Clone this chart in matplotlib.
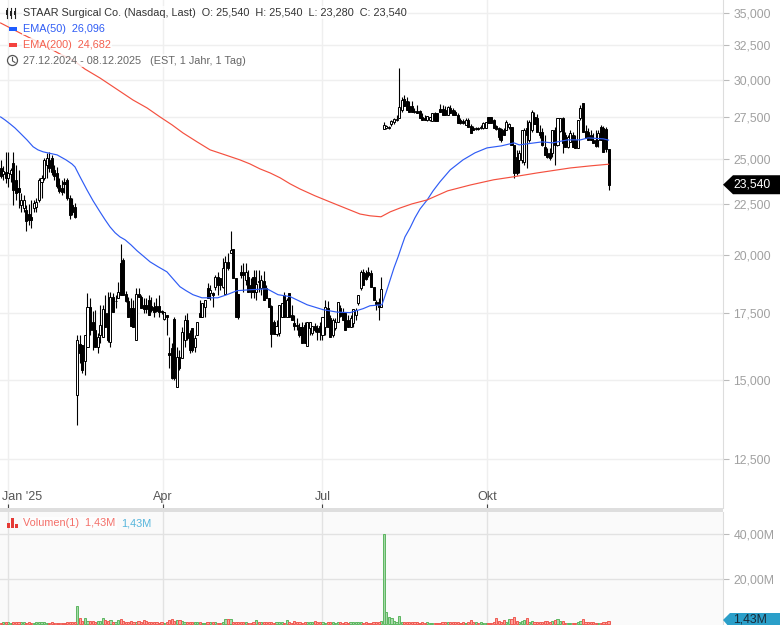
import matplotlib
matplotlib.use('Agg')
import matplotlib.pyplot as plt
import numpy as np
from matplotlib.patches import Polygon, Rectangle, Circle
from matplotlib.transforms import IdentityTransform, ScaledTranslation

plt.rcParams['font.family'] = ['Liberation Sans', 'DejaVu Sans']

opens = [
    24470,24140,24250,23920,24140,24760,23810,23370,22470,22310,
    22210,22010,21860,22310,22370,22730,23700,23920,24650,24930,
    25040,24360,24190,23530,23370,23700,23810,22840,22470,22370,
    14500,16310,16270,15650,16200,17760,17160,16840,16200,16650,
    16570,17520,17520,16380,18180,18000,18130,19660,19790,18300,
    18000,17720,17720,16460,18300,18180,17840,17840,18050,17800,
    17760,17800,17800,17600,17280,17440,15970,16150,17280,14770,
    15830,15760,16460,17240,16730,16920,16200,16650,17520,17360,
    17760,18560,18350,18350,18600,19030,18990,18600,18300,19700,
    20110,20310,18990,18300,19250,19250,18900,19030,18690,19030,
    18390,18860,18560,18860,18560,18130,17800,17160,16690,16730,
    17360,18260,17360,18350,17440,17120,17040,16960,16960,17040,
    16230,16920,16730,17000,16920,17000,16650,16960,17720,17320,
    16650,16920,17160,17720,17560,17520,17240,16960,17120,17440,
    17920,18560,19250,19210,19250,19210,18600,17960,17960,17760,
    26780,26840,26840,27090,27210,27340,27470,27980,28700,28560,
    28240,28240,27920,27920,27920,27530,27470,27340,27340,27280,
    27790,27790,28040,28040,27980,27660,28110,27980,27850,27660,
    27340,27280,27030,27340,26970,26840,26780,26840,26840,26840,
    26840,27530,27530,27340,26970,26840,26780,26720,26720,26910,
    26910,25810,25100,24930,24930,24820,26840,26110,26720,27530,
    27470,26590,26590,25700,25340,25340,25340,26720,25810,26660,
    27470,26410,25700,25990,26410,26110,25630,27470,28430,26660,
    26590,26410,26110,26110,26110,26910,26840,26780,25540]
highs = [
    24930,24590,25400,25400,24470,25400,24650,24360,23100,23000,
    22470,22520,22730,22730,22840,23920,24080,25040,25340,25400,
    25220,24650,24530,23920,23810,23920,23920,23000,22840,22570,
    16650,16650,16270,16650,18350,18130,17600,17640,16730,17840,
    17840,18260,18390,18390,18350,18260,18820,20530,19880,18430,
    18180,18130,18050,18560,18560,18260,18130,18130,18260,18180,
    17960,18130,18260,17640,17560,17440,16570,16340,17360,16200,
    16080,16960,17440,17520,16840,16920,16650,17160,18050,17920,
    18050,18770,18690,18390,19120,19250,18990,19880,19970,20110,
    21160,20310,18990,18300,19570,19660,19660,19340,18990,19340,
    19340,19340,19120,19290,18690,18130,17840,17240,17240,17840,
    17920,18390,18130,18350,17840,17440,17320,17120,17160,17160,
    17160,17160,17000,17120,17040,17160,17360,18050,18010,17440,
    17320,17320,17960,17840,17720,17560,17440,17440,17680,17720,
    18260,19340,19390,19340,19480,19340,18600,18050,18130,19030,
    27210,27030,26970,27340,27470,27660,30825,28830,28960,28830,
    28560,28560,28110,28300,27980,27790,27660,27600,27530,27790,
    27850,27790,28370,28300,28240,28240,28300,28110,27980,27790,
    27470,27400,27470,27470,27090,26970,26910,26910,27030,27210,
    27210,27530,27530,27400,27030,26910,26840,26840,27340,27150,
    26910,25810,25515,25515,26720,26840,27340,27340,27980,27850,
    27720,27030,26840,26410,25630,25630,26720,26910,27470,27470,
    27530,26590,26410,26720,26590,26410,27340,28300,28430,27030,
    26840,26720,26530,26720,26720,27030,26970,26910,25540]
lows = [
    23920,23810,23640,23420,23700,22470,22730,22310,22110,22110,
    21160,21460,21310,22110,22110,22620,22840,23810,23920,24250,
    24080,23810,23370,23100,23000,23100,22730,21760,21960,21810,
    13510,15610,15250,15180,16200,16650,16080,16200,15970,16340,
    16570,16960,16380,16200,17560,17720,18130,18260,18260,17960,
    17360,17000,16960,16460,18180,17720,17520,17520,17440,17560,
    17360,17560,17360,17480,17240,16650,15430,15040,15010,14740,
    15360,15760,16200,16460,15970,16000,16000,16650,17360,17360,
    17360,18130,18050,17760,18470,18260,18470,18560,18300,19340,
    20110,18990,17360,17280,18990,18390,18690,18390,18130,18130,
    18050,18390,18260,18050,18130,17760,16200,16690,16610,16610,
    17360,17360,17360,17360,17240,16840,16840,16570,16340,16340,
    16230,16650,16650,16760,16460,16460,16460,16650,16960,16570,
    16570,16840,17160,17360,17240,16840,16960,16960,16960,17240,
    17840,18470,18690,18900,19030,18600,18050,17640,17240,17760,
    26780,26780,26780,26970,27090,27280,27470,27850,28240,27980,
    27850,27850,27790,27790,27470,27340,27340,27280,27280,27280,
    27280,27280,27850,27660,27660,27660,27790,27660,27660,27150,
    27090,27090,27030,26910,26530,26720,26720,26720,26780,26780,
    26840,27150,27150,26840,26720,26110,25990,26410,26720,26780,
    25810,23920,24080,24190,24760,24650,24470,25990,26590,27090,
    26590,26230,25750,25220,25040,24930,25100,24650,25750,26590,
    25340,25700,25630,25990,25700,25630,25630,27340,26590,26230,
    26110,26110,25930,25700,25700,26110,25400,25400,23280]
closes = [
    24030,24300,23920,24190,24360,23260,23100,23150,22730,22730,
    21660,21710,21710,22570,22620,23810,23920,24930,25040,24470,
    24250,24030,23480,23210,23150,23590,22840,21960,22110,21860,
    16460,15970,15360,16650,17760,16840,16840,16200,16570,17040,
    17680,16960,16460,18180,17560,18010,18390,18260,18260,18000,
    17360,17000,16960,18300,18180,17720,17680,17680,17440,17640,
    17560,17600,17560,17560,17560,17360,15900,15080,15080,15830,
    15430,16760,17240,16530,16080,16080,16530,17160,17360,17920,
    18050,18130,18470,18260,19030,18690,18690,19430,19700,19430,
    20260,18990,17360,17360,19120,19120,19250,18390,18390,18390,
    18730,18820,18900,18050,18130,17760,16690,16690,17000,17840,
    17920,17360,18050,17360,17240,17000,17000,16650,16340,16340,
    17160,17160,17000,16840,16760,16760,17360,17760,16960,16570,
    17240,17160,17960,17400,17240,16840,16960,17320,17680,17640,
    18260,19250,18690,18940,19120,18600,18050,17880,17760,18510,
    27030,26970,26910,27280,27400,27400,28170,28630,28240,27980,
    27850,27850,27850,27790,27470,27340,27340,27600,27530,27790,
    27280,27280,27850,27660,27660,28170,27790,27660,27660,27150,
    27150,27150,27340,26910,26530,26720,26840,26780,26910,27150,
    27210,27150,27150,26840,26780,26290,26110,26410,27210,27090,
    25810,24190,24190,25340,26720,26720,26410,27210,27850,27090,
    26590,26410,25810,25220,25100,25040,26720,25810,27470,27470,
    25930,25700,26290,26530,25700,25630,27340,28110,26590,26230,
    26110,26110,25930,25750,26530,26110,25400,25570,23540]
# Volumen in Mio
volume = [
    .6,.7,.8,.9,.6,1.0,.8,.9,.7,.7,
    .6,.7,.6,.5,.8,1.1,1.1,.7,.5,.6,
    .8,.6,.4,.5,.3,.5,.7,.8,.7,1.0,
    8.2,2.5,1.4,2.5,1.5,1.4,1.2,1.0,1.3,1.2,
    2.5,1.6,1.5,1.6,.8,1.1,1.7,2.2,1.3,.9,
    .9,1.4,1.1,.9,1.5,1.0,1.6,1.2,.8,1.0,
    .8,.7,.6,.9,.6,1.0,1.6,2.4,1.5,1.8,
    2.0,1.4,.9,.7,.8,.7,.8,.7,.8,.5,
    .6,.8,.7,.9,.7,.5,.6,1.0,2.2,2.1,
    2.2,.9,.9,.8,1.0,.9,.9,.6,.5,.8,
    1.6,1.1,.9,.9,.8,.8,.7,.6,.7,1.0,
    .7,.6,1.6,1.1,.6,1.2,.9,.8,.6,.7,
    .9,1.1,1.1,1.2,.9,.9,.9,.6,1.1,1.1,
    .7,.6,1.0,.7,.6,.8,.5,.7,.8,.8,
    .9,.7,.6,.7,.6,.5,.7,.9,1.0,1.2,
    40,5.2,3.0,2.5,1.4,1.0,3.4,1.1,.9,.8,
    .8,.9,.7,.8,.6,.7,.6,.7,.6,.6,
    .6,.6,.5,.8,.8,.7,1.0,.8,.8,.7,
    .5,.7,.6,.7,1.8,.9,.7,.5,.7,.6,
    .6,.5,.4,.8,2.6,1.2,1.0,1.7,.8,2.3,
    2.3,3.0,1.4,1.0,1.5,1.7,2.5,.8,1.3,1.0,
    .9,.9,.8,1.2,1.2,.8,1.5,1.6,2.2,1.2,
    1.2,.6,.5,.4,.4,.4,1.0,1.2,2.2,1.0,
    1.0,.7,.7,.5,.5,.5,.9,.9,1.43]

ema50_idx = [0,1.7,3.7,5.6,7.6,10.3,12.7,14.6,16.6,19.3,22.1,25.6,27.9,29.1,31.1,33.8,36.2,
             38.9,40.9,42.8,44.8,46.7,48.7,51,53.4,55.8,58.5,61.6,65.1,67.5,70.2,72.6,75.3,
             78.8,85,88.6,92.5,97.6,104.3,108.6,113.3,120,126.2,131.7,136.8,141.9,144.6,149.3,
             150.9,152.5,154,155.6,157.2,158.3,160.3,162.2,164.2,167,169.3,172,176,181,185.7,
             190.4,196,201,203,212,216,222,227,230,236,238]
ema50 = [27530,27340,27090,26840,26530,26110,25700,25515,25400,25310,25220,24930,24700,24530,
         23970,23260,22680,22110,21710,21360,21070,20870,20730,20490,20210,19970,19700,19480,
         19250,18940,18600,18430,18260,18130,18130,18260,18430,18470,18510,18260,18180,17840,
         17640,17540,17520,17680,17800,17840,18350,18900,19430,19930,20490,20870,21310,21810,
         22260,22730,23210,23700,24360,24930,25340,25630,25750,25930,25810,25990,25930,26110,
         26110,26230,26170,26096]
ema200_idx = [0,7.6,15.4,23.2,28.3,33,38.9,44.8,51.8,57.3,62.4,67.1,71.4,76.9,82,87.9,93.7,97.6,
              101.5,105.5,109.4,113.3,117.2,123,129,134.8,140.7,144.6,148.9,152.5,156.4,161,167,
              175,184,193,201,210,223,231,238]
ema200 = [34200,33420,32660,31840,31400,30750,30120,29430,28630,28110,27530,27030,26530,25990,
          25515,25220,24930,24700,24420,24190,23920,23590,23310,22950,22620,22310,22000,21910,
          21860,22110,22310,22520,22730,23210,23530,23810,23980,24190,24470,24590,24682]

price_ticks = [35000,32500,30000,27500,25000,22500,20000,17500,15000,12500]
price_labels = ['35,000','32,500','30,000','27,500','25,000','22,500','20,000','17,500','15,000','12,500']
month_idx = [3,63.4,126,190.6]
month_labels = ["Jan '25",'Apr','Jul','Okt']
vol_ticks = [20,40]
vol_labels = ['20,00M','40,00M']


def px(x, y):
    return x / 780, 1 - y / 625


fig = plt.figure(figsize=(7.8, 6.25), dpi=100)
ax = fig.add_axes([0, 1 - 508 / 625, 723 / 780, 508 / 625])
axv = fig.add_axes([0, 0, 723 / 780, 113 / 625])

x = np.arange(len(closes))
o, h, l, c = map(np.array, (opens, highs, lows, closes))
up = c >= o
xmin, xmax = -0.25, 282.8

# Kerzen
ax.vlines(x, l, h, color='black', lw=0.8, zorder=3)
ax.bar(x[up], (c - o)[up], bottom=o[up], width=0.8, facecolor='white', edgecolor='black', lw=0.7, zorder=4)
ax.bar(x[~up], (o - c)[~up], bottom=c[~up], width=0.8, facecolor='black', edgecolor='black', lw=0.7, zorder=4)
ax.plot(ema50_idx, ema50, color='#2f5cf5', lw=0.85, zorder=5)
ax.plot(ema200_idx, ema200, color='#f4503f', lw=0.85, zorder=5)

ax.set_yscale('log')
ax.set_xlim(xmin, xmax)
ax.set_ylim(11157, 36067)
ax.yaxis.tick_right()
ax.set_yticks(price_ticks, price_labels)
ax.minorticks_off()
ax.set_xticks(month_idx, month_labels)
ax.grid(True, color='#efefef', lw=1, zorder=0)
ax.set_axisbelow(True)
ax.tick_params(axis='y', length=4.5, width=0.8, color='#bbbbbb', labelcolor='#a0a0a0', labelsize=8.8, pad=3, right=True)
ax.tick_params(axis='x', direction='in', length=3, width=0.8, color='#444444', labelcolor='#555555', labelsize=9, pad=-12)
for s in ['top', 'left', 'bottom']:
    ax.spines[s].set_visible(False)
ax.spines['right'].set_color('#dddddd')
first = ax.get_xticklabels()[0]
first.set_ha('left')
first.set_transform(first.get_transform() + ScaledTranslation(-6 / 100, 0, fig.dpi_scale_trans))

# Volumen
vol = np.array(volume)
axv.bar(x[up], vol[up], width=0.85, facecolor='#a6d8a8', edgecolor='#5cb660', lw=0.7, zorder=3)
axv.bar(x[~up], vol[~up], width=0.85, facecolor='#ff9f99', edgecolor='#ee5a52', lw=0.7, zorder=3)
axv.set_xlim(xmin, xmax)
axv.set_ylim(-0.44, 49.78)
axv.set_facecolor('#fafafa')
axv.yaxis.tick_right()
axv.set_yticks(vol_ticks, vol_labels)
axv.set_xticks(month_idx, [''] * 4)
axv.grid(True, color='#e2e2e2', lw=1, zorder=0)
axv.set_axisbelow(True)
axv.tick_params(axis='y', length=4.5, width=0.8, color='#bbbbbb', labelcolor='#a0a0a0', labelsize=8.8, pad=3)
axv.tick_params(axis='x', length=0)
for s in ['top', 'left', 'bottom']:
    axv.spines[s].set_visible(False)
axv.spines['right'].set_color('#dddddd')

# Trennbalken
fig.add_artist(Rectangle(px(0, 511.5), 723 / 780, 3.5 / 625, transform=fig.transFigure, facecolor='#dedede', edgecolor='none'))

# Kursmarken rechts
yp = ax.transData.transform((0, closes[-1]))[1]
fig.add_artist(Polygon([(723, yp), (733, yp + 9.5), (780, yp + 9.5), (780, yp - 9.5), (733, yp - 9.5)],
                       transform=IdentityTransform(), facecolor='black', edgecolor='none'))
fig.text(*px(752, 625 - yp), '23,540', color='white', fontsize=8.8, ha='center', va='center')
yv = 625 - 620
fig.add_artist(Polygon([(723, yv), (730, yv + 7), (780, yv + 7), (780, yv - 8), (730, yv - 8)],
                       transform=IdentityTransform(), facecolor='#2b9fc9', edgecolor='none'))
fig.text(*px(750, 619.5), '1,43M', color='#1a2a38', fontsize=8.8, ha='center', va='center')

# Legende
box = dict(facecolor='white', alpha=0.8, edgecolor='none', pad=1)
fs = 7.85


def legend(xp, yp_, s, col):
    fig.text(*px(xp, yp_), s, color=col, fontsize=fs, ha='left', va='center', bbox=box)


legend(23, 12.5, 'STAAR Surgical Co. (Nasdaq, Last)  O: 25,540  H: 25,540  L: 23,280  C: 23,540', '#333333')
legend(23, 29, 'EMA(50)  26,096', '#2f5cf5')
legend(23, 44.5, 'EMA(200)  24,682', '#f4604f')
legend(23, 60.5, '27.12.2024 - 08.12.2025   (EST, 1 Jahr, 1 Tag)', '#666666')
legend(23, 523.5, 'Volumen(1)  1,43M', '#f4706a')
fig.text(*px(121, 523.5), '1,43M', color='#55b5dc', fontsize=fs, ha='left', va='center')

# kleine Symbole
for xi, (top, bot, bt, bb) in zip([7, 11, 15], [(8, 18, 10, 15), (8, 18, 11, 16), (8, 18, 11, 15)]):
    fig.add_artist(plt.Line2D([xi / 780, xi / 780], [1 - top / 625, 1 - bot / 625], color='#222222', lw=0.8))
    fig.add_artist(Rectangle(px(xi - 1.2, bb), 2.4 / 780, (bb - bt) / 625, facecolor='#222222', edgecolor='none'))
fig.add_artist(Rectangle(px(9, 30.5), 8 / 780, 3 / 625, facecolor='#1f5cff', edgecolor='none'))
fig.add_artist(Rectangle(px(9, 46.5), 8 / 780, 3 / 625, facecolor='#f4433f', edgecolor='none'))
fig.add_artist(Circle((12.5, 625 - 60.5), 5, transform=IdentityTransform(), facecolor='white', edgecolor='#555555', lw=0.9))
fig.add_artist(plt.Line2D([12.5 / 780, 12.5 / 780, 15 / 780], [1 - 57.5 / 625, 1 - 61 / 625, 1 - 62.5 / 625], color='#555555', lw=0.8))
for xi, top in zip([7, 11, 15], [522.5, 518, 524]):
    fig.add_artist(Rectangle(px(xi, 528), 3 / 780, (528 - top) / 625, facecolor='#e53935', edgecolor='none'))

fig.savefig('out.png', dpi=100)
